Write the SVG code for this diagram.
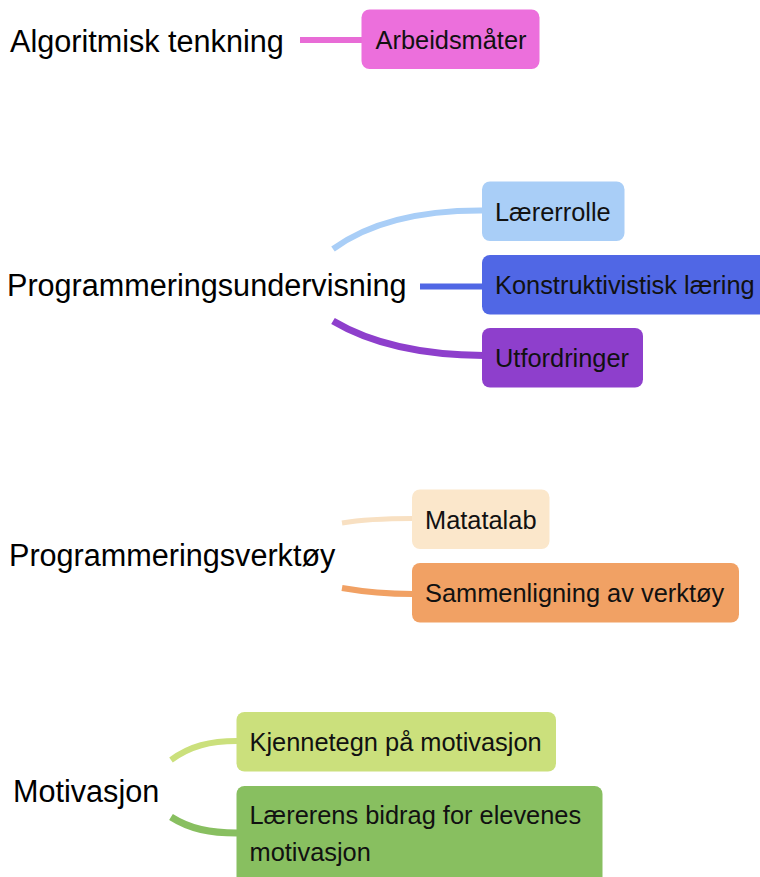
<svg xmlns="http://www.w3.org/2000/svg" width="760" height="877" viewBox="0 0 760 877">
<style>
.main{font-family:"Liberation Sans",Arial,Helvetica,sans-serif;font-size:30.6px;fill:#000}
.lbl{font-family:"Liberation Sans",Arial,Helvetica,sans-serif;font-size:25.4px;fill:#111}
.c{fill:none;stroke-linecap:butt}
</style>
<rect width="760" height="877" fill="#fff"/>
<g id="connectors">
<path class="c" d="M300,40 H363" stroke="#e86cd6" stroke-width="6"/>
<path class="c" d="M333,249 C370,222 420,210 484,210.5" stroke="#a9cef7" stroke-width="6"/>
<path class="c" d="M420,286.5 H484" stroke="#5067e5" stroke-width="6"/>
<path class="c" d="M333,321 C370,343 420,355 484,355.5" stroke="#8e3fcc" stroke-width="7"/>
<path class="c" d="M342,523 C365,519 390,518.5 413,518.5" stroke="#f8e0c2" stroke-width="5"/>
<path class="c" d="M342,588 C365,592 390,594 413,594" stroke="#f1a164" stroke-width="6"/>
<path class="c" d="M171,760 C190,746 210,741 237,741" stroke="#cbe07c" stroke-width="6"/>
<path class="c" d="M171,817 C190,829 210,833 237,833" stroke="#88bf60" stroke-width="7"/>
</g>
<g id="algoritmisk">
<text class="main" x="10" y="52">Algoritmisk tenkning</text>
</g>
<g id="arbeidsmater">
<rect x="361.5" y="9.5" width="178" height="59.5" rx="8" fill="#ec6fdc"/>
<text class="lbl" x="375.5" y="48.5">Arbeidsmåter</text>
</g>
<g id="programmeringsundervisning">
<text class="main" x="7" y="296">Programmeringsundervisning</text>
</g>
<g id="laererrolle">
<rect x="482" y="181.5" width="142.5" height="59.5" rx="8" fill="#a9cef7"/>
<text class="lbl" x="495" y="220.5">Lærerrolle</text>
</g>
<g id="konstruktivistisk">
<rect x="482" y="255" width="300" height="59.5" rx="8" fill="#5067e5"/>
<text class="lbl" x="495" y="294">Konstruktivistisk læring</text>
</g>
<g id="utfordringer">
<rect x="482" y="328" width="161" height="59.5" rx="8" fill="#8e3fcc"/>
<text class="lbl" x="495" y="367">Utfordringer</text>
</g>
<g id="programmeringsverktoy">
<text class="main" x="9" y="566">Programmeringsverktøy</text>
</g>
<g id="matatalab">
<rect x="412" y="489.5" width="137.5" height="59.5" rx="8" fill="#fbe7cb"/>
<text class="lbl" x="425" y="528.5">Matatalab</text>
</g>
<g id="sammenligning">
<rect x="412" y="563" width="327" height="59.5" rx="8" fill="#f1a164"/>
<text class="lbl" x="425" y="602">Sammenligning av verktøy</text>
</g>
<g id="motivasjon">
<text class="main" x="13" y="801.5">Motivasjon</text>
</g>
<g id="kjennetegn">
<rect x="236.5" y="712" width="319.5" height="59.5" rx="8" fill="#cbe07c"/>
<text class="lbl" x="249.5" y="751">Kjennetegn på motivasjon</text>
</g>
<g id="laererens-bidrag">
<rect x="236.5" y="786" width="366" height="110" rx="8" fill="#88bf60"/>
<text class="lbl" x="249.5" y="824">Lærerens bidrag for elevenes</text>
<text class="lbl" x="249.5" y="861">motivasjon</text>
</g>
</svg>
